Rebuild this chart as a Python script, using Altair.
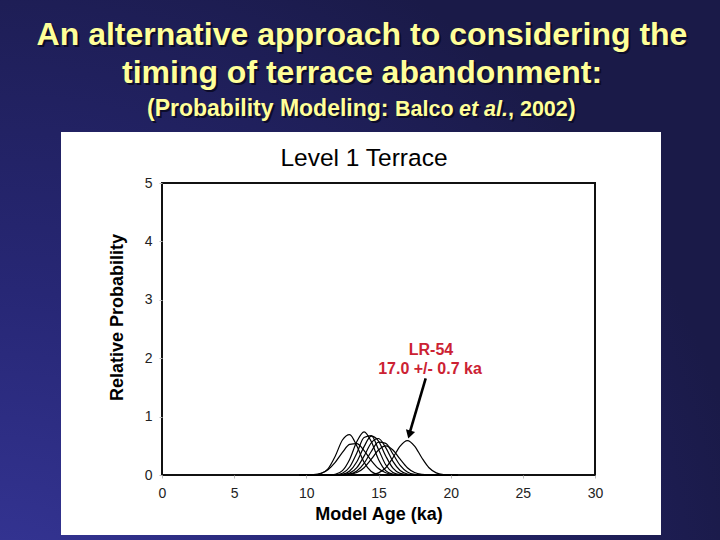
import altair as alt
import pandas as pd

# ---------------- data ----------------
ages = [9.5, 10.0, 10.5, 11.0, 11.5, 12.0, 12.5, 13.0, 13.5, 14.0, 14.5, 15.0,
        15.5, 16.0, 16.5, 17.0, 17.5, 18.0, 18.5, 19.0, 19.5, 20.0, 20.5]

curve_a = [0, 0, 0.003, 0.022, 0.106, 0.321, 0.60, 0.693, 0.495, 0.218, 0.059, 0.010,
           0.001, 0, 0, 0, 0, 0, 0, 0, 0, 0, 0]
curve_b = [0, 0.001, 0.007, 0.029, 0.091, 0.216, 0.386, 0.523, 0.538, 0.419, 0.248, 0.111,
           0.038, 0.010, 0.002, 0, 0, 0, 0, 0, 0, 0, 0]
curve_c = [0, 0, 0, 0, 0.001, 0.0125, 0.0745, 0.267, 0.573, 0.74, 0.573, 0.267,
           0.0745, 0.0125, 0.001, 0, 0, 0, 0, 0, 0, 0, 0]
curve_d = [0, 0, 0, 0, 0, 0.004, 0.031, 0.137, 0.378, 0.642, 0.674, 0.436,
           0.175, 0.043, 0.007, 0.001, 0, 0, 0, 0, 0, 0, 0]
curve_e = [0, 0, 0, 0, 0, 0.002, 0.013, 0.069, 0.228, 0.486, 0.664, 0.581,
           0.326, 0.117, 0.027, 0.004, 0, 0, 0, 0, 0, 0, 0]
curve_f = [0, 0, 0, 0, 0, 0.001, 0.006, 0.032, 0.126, 0.324, 0.552, 0.625,
           0.469, 0.233, 0.077, 0.017, 0.002, 0, 0, 0, 0, 0, 0]
curve_g = [0, 0, 0, 0, 0, 0, 0.003, 0.016, 0.068, 0.199, 0.403, 0.563,
           0.542, 0.360, 0.165, 0.052, 0.011, 0.002, 0, 0, 0, 0, 0]
curve_h = [0, 0, 0, 0, 0, 0, 0.002, 0.011, 0.042, 0.125, 0.270, 0.428,
           0.50, 0.428, 0.270, 0.125, 0.042, 0.011, 0.002, 0, 0, 0, 0]
curve_lr54 = [0, 0, 0, 0, 0, 0, 0, 0, 0, 0.001, 0.008, 0.037,
              0.124, 0.295, 0.496, 0.59, 0.496, 0.295, 0.124, 0.037, 0.008, 0.001, 0]

curves = {"a": curve_a, "b": curve_b, "c": curve_c, "d": curve_d, "e": curve_e,
          "f": curve_f, "g": curve_g, "h": curve_h, "LR-54": curve_lr54}

x_ticks = [0, 5, 10, 15, 20, 25, 30]
y_ticks = [0, 1, 2, 3, 4, 5]

# arrow (data coordinates) pointing at the LR-54 peak
arrow_x = [18.27, 17.16]
arrow_y = [1.656, 0.72]
arrow_head_x = [17.14]
arrow_head_y = [0.693]

# ---------------- layout constants ----------------
PW, PH = 433, 292          # plot area
PL, PT = 162, 183          # plot origin on the page
FONT = "Liberation Sans"

rows = []
for name, vals in curves.items():
    for a, v in zip(ages, vals):
        rows.append({"sample": name, "age": a, "p": v})
df = pd.DataFrame(rows)

xs = alt.Scale(domain=[0, 30], nice=False)
ys = alt.Scale(domain=[0, 5], nice=False)

one = pd.DataFrame({"k": [0]})

# background gradient
bg = alt.Chart(one).mark_rect(
    clip=False,
    fill={"gradient": "radial", "x1": 0, "y1": 1, "r1": 0, "x2": 0, "y2": 1, "r2": 1.05,
          "stops": [{"offset": 0, "color": "#37379a"},
                    {"offset": 0.45, "color": "#272775"},
                    {"offset": 1, "color": "#1a1a48"}]},
).encode(x=alt.value(-PL), x2=alt.value(720 - PL), y=alt.value(-PT), y2=alt.value(540 - PT))

panel = alt.Chart(one).mark_rect(clip=False, fill="white").encode(
    x=alt.value(61 - PL), x2=alt.value(661 - PL), y=alt.value(132 - PT), y2=alt.value(535 - PT))

frame_df = pd.DataFrame({"x0": [0], "x1": [30], "y0": [0], "y1": [5]})
frame = alt.Chart(frame_df).mark_rect(fillOpacity=0, stroke="#111", strokeWidth=2).encode(
    x=alt.X("x0:Q", scale=xs,
            axis=alt.Axis(values=x_ticks, format="d", labelFlush=False,
                          title="Model Age (ka)", labelPadding=8,
                          titlePadding=5, titleFontSize=18, titleFontWeight="bold",
                          zindex=2, domain=False, grid=False)),
    x2="x1:Q",
    y=alt.Y("y0:Q", scale=ys,
            axis=alt.Axis(values=y_ticks, format="d", labelFlush=False,
                          title="Relative Probability", labelPadding=7,
                          titleAngle=270, titleX=-45, titleY=317 - PT, titleAlign="center",
                          titleBaseline="middle", titleFontSize=18, titleFontWeight="bold",
                          zindex=2, domain=False, grid=False)),
    y2="y1:Q",
)

lines = alt.Chart(df).mark_line(color="black", strokeWidth=1.2, interpolate="monotone").encode(
    x=alt.X("age:Q", scale=xs),
    y=alt.Y("p:Q", scale=ys),
    detail="sample:N",
)

arrow_df = pd.DataFrame({"ax": arrow_x, "ay": arrow_y})
arrow = alt.Chart(arrow_df).mark_line(color="black", strokeWidth=2.6).encode(
    x=alt.X("ax:Q", scale=xs), y=alt.Y("ay:Q", scale=ys))
head_df = pd.DataFrame({"hx": arrow_head_x, "hy": arrow_head_y})
head = alt.Chart(head_df).mark_point(shape="triangle-down", filled=True, color="black",
                                     opacity=1, size=90, angle=16).encode(
    x=alt.X("hx:Q", scale=xs), y=alt.Y("hy:Q", scale=ys))


def txt(s, px, py, size, color, weight="normal", style="normal", align="left",
        baseline="alphabetic"):
    kw = dict(text=s, fontSize=size, color=color, fontWeight=weight, fontStyle=style,
              align=align, baseline=baseline, font=FONT, clip=False)
    return alt.Chart(one).mark_text(**kw).encode(x=alt.value(px - PL), y=alt.value(py - PT))


YEL = "#ffff99"
SH = "#0c0c2a"
texts = []
for dx, col in [(2, SH), (0, YEL)]:
    texts.append(txt("An alternative approach to considering the", 362 + dx, 45 + dx, 32, col, "bold", align="center"))
    texts.append(txt("timing of terrace abandonment:", 362 + dx, 83 + dx, 32, col, "bold", align="center"))
    texts.append(txt("(Probability Modeling: ", 147 + dx, 116 + dx, 23, col, "bold"))
    texts.append(txt("Balco ", 395 + dx, 116 + dx, 21.5, col, "bold"))
    texts.append(txt("et al.", 459 + dx, 116 + dx, 21.5, col, "bold", "italic"))
    texts.append(txt(", 2002", 508 + dx, 116 + dx, 21.5, col, "bold"))
    texts.append(txt(")", 568 + dx, 116 + dx, 23, col, "bold"))

texts.append(txt("Level 1 Terrace", 364, 166, 24.5, "black", align="center"))
texts.append(txt("LR-54", 431, 355, 16, "#cc2233", "bold", align="center"))
texts.append(txt("17.0 +/- 0.7 ka", 430, 374, 16, "#cc2233", "bold", align="center"))

chart = alt.layer(bg, panel, *texts, frame, lines, arrow, head).properties(
    width=PW, height=PH,
    autosize=alt.AutoSizeParams(type="none"),
    padding={"left": PL, "top": PT, "right": 720 - PL - PW, "bottom": 540 - PT - PH},
    background="#1c1c4e",
).configure_view(stroke=None).configure_axis(
    tickColor="#bbbbbb", tickSize=3,
    labelFont=FONT, labelFontSize=14, labelColor="#222222",
    titleFont=FONT, titleColor="black",
)

chart.save("out.html", embed_options={"renderer": "svg", "actions": False})
